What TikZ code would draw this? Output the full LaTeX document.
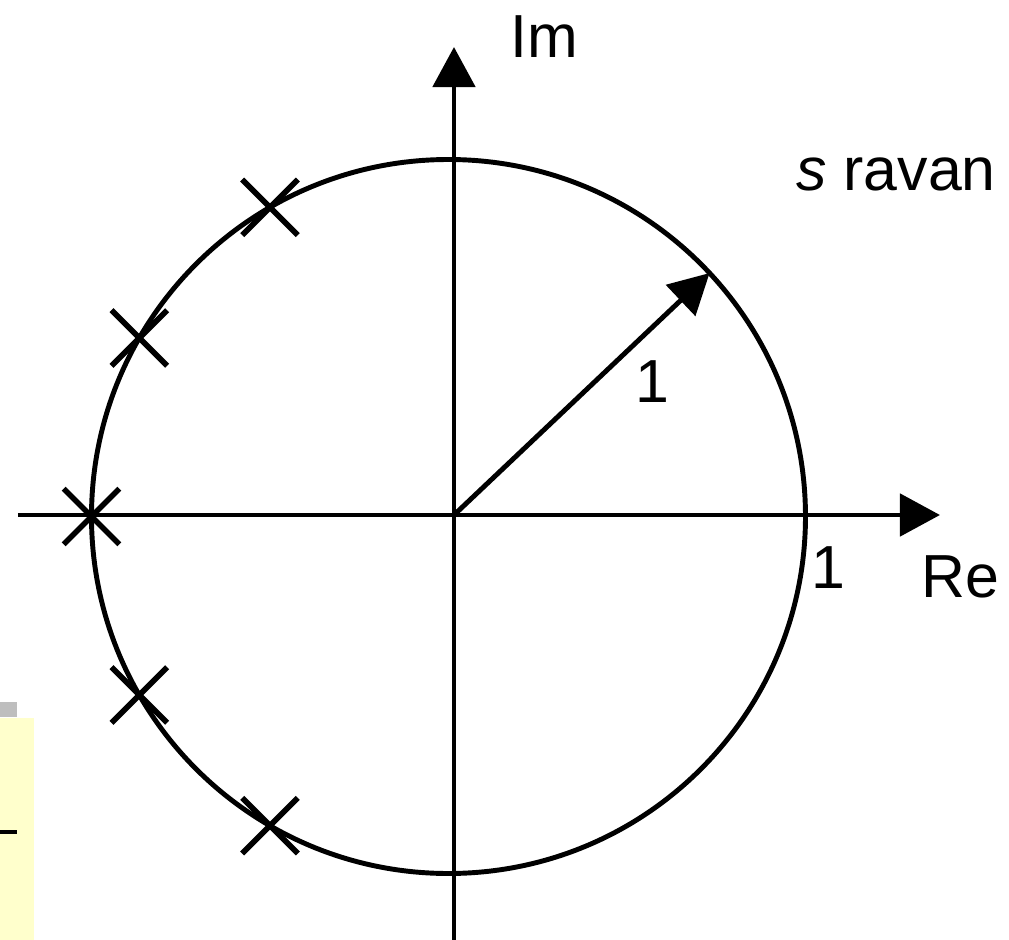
\documentclass[tikz,border=0pt]{standalone}
\usepackage{fontspec}
\setmainfont{Liberation Sans}
\usepackage{tikz}
\usepackage{xcolor}
\usetikzlibrary{positioning,arrows.meta,calc,shapes.misc}
\definecolor{noteyellow}{RGB}{255,255,204}
\definecolor{notegray}{RGB}{190,190,190}
\tikzset{
    axis/.style={
        -{Triangle[length=4mm,width=4.2mm]},
        line width=1.4pt,
        black
    },
    pole/.style={
        cross out,
        draw=black,
        line width=1.6pt,
        minimum size=0.5cm,
        inner sep=0pt
    },
    lbl/.style={
        anchor=base,
        inner sep=0pt,
        font=\fontsize{17.3}{21}\selectfont
    }
}
\begin{document}
\begin{tikzpicture}

\useasboundingbox (-4.54,-4.25) rectangle (5.55,5.15);

% leftover note box
\fill[noteyellow] (-4.54,-4.25) rectangle (-4.20,-2.03);
\fill[notegray] (-4.54,-2.02) rectangle (-4.37,-1.87);
\fill[black] (-4.54,-3.19) rectangle (-4.37,-3.15);

% axes
\coordinate (O) at (0,0);
\coordinate (xl) at (-4.36,0);
\coordinate (xr) at (4.86,0);
\coordinate (yb) at (0,-4.25);
\coordinate (yt) at (0,4.68);
\draw[axis] (xl) -- (xr);
\draw[axis] (yb) -- (yt);

% unit circle
\coordinate (c) at (-0.055,-0.015);
\draw[line width=1.4pt] (c) circle (3.57);

% poles
\foreach \a/\n in {120/p1,150/p2,180/p3,210/p4,240/p5}
    \node[pole] (\n) at ($(c)+(\a:3.57)$) {};

% radius
\coordinate (tip) at ($(c)+(43:3.57)$);
\draw[axis] (O) -- (tip);

% labels
\node[lbl] (im) at (0.90,4.58) {Im};
\node[lbl] (re) at (5.06,-0.82) {Re};
\node[lbl] (one) at (3.74,-0.73) {1};
\node[lbl] (rad) at (1.98,1.13) {1};
\node[lbl] (plane) at (4.42,3.25) {\textit{s} ravan};

\end{tikzpicture}
\end{document}
